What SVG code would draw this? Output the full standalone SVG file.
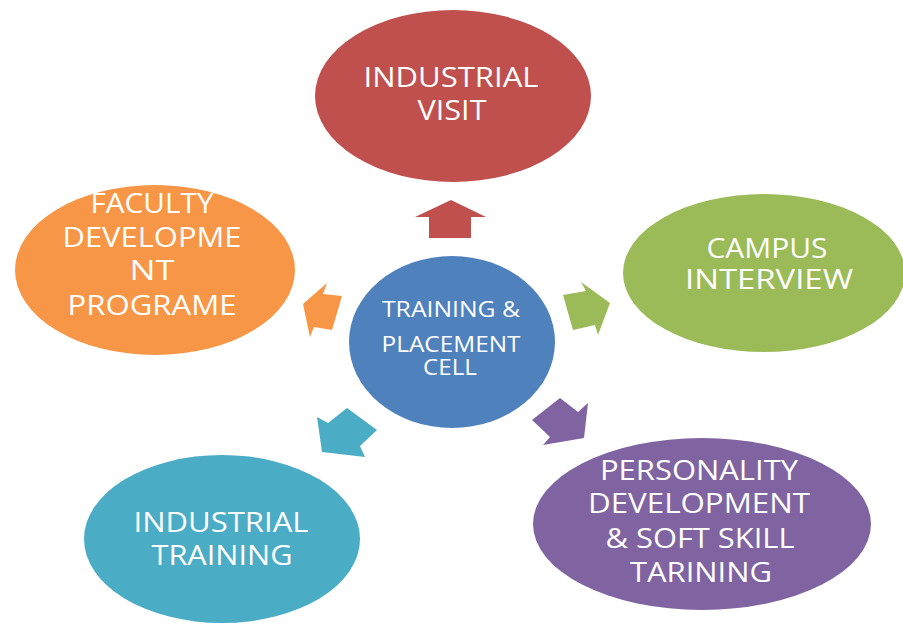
<svg xmlns="http://www.w3.org/2000/svg" width="903" height="625" viewBox="0 0 903 625">
<style>
text{font-family:"Open Sans","Liberation Sans",sans-serif;fill:#fff;text-anchor:middle}
.big{font-size:27px}
.mid{font-size:22px}
.red{fill:#C0504D}.green{fill:#9BBB59}.orange{fill:#F79646}.teal{fill:#4BACC6}.purple{fill:#8064A2}.blue{fill:#4F81BD}
</style>
<rect width="903" height="625" fill="#fff"/>
<g id="connectors">
<polygon class="red" points="451,200 486,217 471,217 471,238 429,238 429,217 415,217"/>
<polygon class="green" points="563,295 586,291 581,282 610,303 598,335 595,325 573,330"/>
<polygon class="orange" points="327,283 323,294 342,296 332,330 314,327 310,337 303,304"/>
<polygon class="teal" points="347,408 377,430 360,446 365,457 322,452 317,417 328,423"/>
<polygon class="purple" points="560,398 578,412 588,403 584,438 543,445 550,437 532,420"/>
</g>
<g id="industrial-visit">
<ellipse class="red" cx="453" cy="96" rx="138" ry="86"/>
<text class="big" x="451" y="87" textLength="175" lengthAdjust="spacingAndGlyphs">INDUSTRIAL</text>
<text class="big" x="452" y="120" textLength="69" lengthAdjust="spacingAndGlyphs">VISIT</text>
</g>
<g id="campus-interview">
<ellipse class="green" cx="764" cy="273" rx="141" ry="79"/>
<text class="big" x="767" y="258" textLength="121" lengthAdjust="spacingAndGlyphs">CAMPUS</text>
<text class="big" x="769" y="289" textLength="168" lengthAdjust="spacingAndGlyphs">INTERVIEW</text>
</g>
<g id="faculty-development">
<ellipse class="orange" cx="155" cy="270" rx="140" ry="85"/>
<text class="big" x="152" y="213" textLength="123" lengthAdjust="spacingAndGlyphs">FACULTY</text>
<text class="big" x="152" y="247" textLength="179" lengthAdjust="spacingAndGlyphs">DEVELOPME</text>
<text class="big" x="152" y="280" textLength="45" lengthAdjust="spacingAndGlyphs">NT</text>
<text class="big" x="152" y="315" textLength="169" lengthAdjust="spacingAndGlyphs">PROGRAME</text>
</g>
<g id="training-placement-cell">
<ellipse class="blue" cx="452" cy="342" rx="103" ry="86"/>
<text class="mid" x="451" y="317" textLength="138" lengthAdjust="spacingAndGlyphs">TRAINING &amp;</text>
<text class="mid" x="451" y="352" textLength="139" lengthAdjust="spacingAndGlyphs">PLACEMENT</text>
<text class="mid" x="450" y="375" textLength="54" lengthAdjust="spacingAndGlyphs">CELL</text>
</g>
<g id="industrial-training">
<ellipse class="teal" cx="222" cy="539" rx="138" ry="84"/>
<text class="big" x="221" y="532" textLength="175" lengthAdjust="spacingAndGlyphs">INDUSTRIAL</text>
<text class="big" x="222" y="565" textLength="141" lengthAdjust="spacingAndGlyphs">TRAINING</text>
</g>
<g id="personality-development">
<ellipse class="purple" cx="702" cy="524" rx="169" ry="86"/>
<text class="big" x="699" y="480" textLength="198" lengthAdjust="spacingAndGlyphs">PERSONALITY</text>
<text class="big" x="699" y="513" textLength="222" lengthAdjust="spacingAndGlyphs">DEVELOPMENT</text>
<text class="big" x="700" y="548" textLength="189" lengthAdjust="spacingAndGlyphs">&amp; SOFT SKILL</text>
<text class="big" x="701" y="582" textLength="142" lengthAdjust="spacingAndGlyphs">TARINING</text>
</g>
</svg>
